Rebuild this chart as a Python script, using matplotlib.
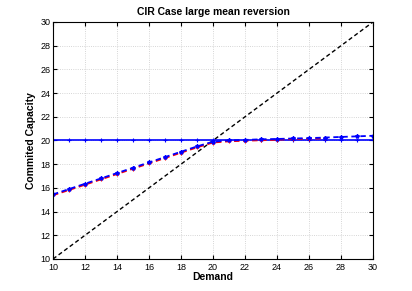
"""CIR case, large mean reversion: committed capacity vs demand."""

import matplotlib.pyplot as plt
import numpy as np

plt.rcParams["font.family"] = ["Liberation Sans", "DejaVu Sans"]

demand = np.arange(10, 31)
diagonal = demand.astype(float)
flat_capacity = np.full(len(demand), 20.0)

red_demand = np.arange(10, 28)
red_capacity = [15.38, 15.82, 16.27, 16.72, 17.17, 17.62, 18.07, 18.52, 18.97,
                19.42, 19.83, 19.93, 19.98, 20.02, 20.07, 20.12, 20.15, 20.18]
blue_capacity = [15.45, 15.90, 16.35, 16.80, 17.25, 17.70, 18.15, 18.60, 19.05,
                 19.50, 19.90, 20.00, 20.05, 20.10, 20.13, 20.17, 20.20, 20.25,
                 20.30, 20.35, 20.40]

xticks = np.arange(10, 31, 2)
yticks = np.arange(10, 31, 2)


def main() -> None:
    fig = plt.figure(figsize=(4.12, 2.91), dpi=100)
    ax = fig.add_axes([53 / 412, 1 - 259 / 291, 320 / 412, 237 / 291])

    ax.plot(demand, diagonal, color="black", linestyle=(0, (3, 2)), linewidth=1.0)
    ax.plot(demand, flat_capacity, color="#0000ff", linestyle="-", linewidth=1.2,
            marker="+", markersize=3, markeredgewidth=0.8)
    ax.plot(red_demand, red_capacity, color="#ff0000", linestyle=(0, (3, 2)),
            linewidth=1.3, marker="+", markersize=3, markeredgewidth=0.8)
    ax.plot(demand, blue_capacity, color="#0000ff", linestyle=(0, (3, 2)),
            linewidth=1.3, marker="*", markersize=3)

    ax.set_xlim(10, 30)
    ax.set_ylim(10, 30)
    ax.set_xticks(xticks)
    ax.set_yticks(yticks)
    ax.tick_params(direction="in", length=3, labelsize=6.5, top=True, right=True)
    ax.tick_params(axis="x", pad=3)
    ax.tick_params(axis="y", pad=2)
    ax.grid(True, color="#c8c8c8", linestyle=":", linewidth=0.6)
    for spine in ax.spines.values():
        spine.set_linewidth(0.8)

    ax.set_title("CIR Case large mean reversion", fontsize=7.5, fontweight="bold", pad=5)
    ax.set_xlabel("Demand", fontsize=7.5, fontweight="bold", labelpad=0)
    ax.set_ylabel("Commited Capacity", fontsize=7.5, fontweight="bold", labelpad=3)

    fig.savefig("out.png", dpi=100)
    plt.close(fig)


if __name__ == "__main__":
    main()
